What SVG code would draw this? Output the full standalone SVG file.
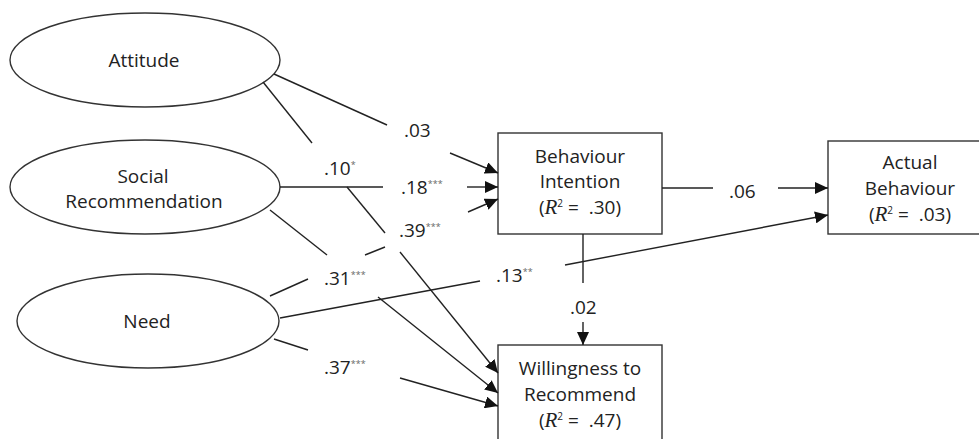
<svg xmlns="http://www.w3.org/2000/svg" width="979" height="439" viewBox="0 0 979 439">
<style>
.shape{fill:#fff;stroke:#333;stroke-width:1.4}
.node{font-family:"Open Sans","Liberation Sans",sans-serif;font-size:19px;fill:#222;text-anchor:middle}
.lbl{font-family:"Open Sans","Liberation Sans",sans-serif;font-size:19px;fill:#222}
.ast{font-size:9px;fill:#666}
.r{font-family:"Liberation Serif",serif;font-style:italic;font-size:21px}
.sup{font-size:10px}
.con line{stroke:#222;stroke-width:1.4}
.arr{marker-end:url(#ah)}
</style>
<defs>
<marker id="ah" markerUnits="userSpaceOnUse" markerWidth="14" markerHeight="12" refX="13" refY="6" orient="auto">
<path d="M0,0 L13,6 L0,12 z" fill="#111"/>
</marker>
</defs>
<rect width="979" height="439" fill="#fff"/>
<g id="attitude">
<ellipse class="shape" cx="145" cy="60" rx="135" ry="47"/>
<text class="node" x="144" y="67">Attitude</text>
</g>
<g id="social">
<ellipse class="shape" cx="145" cy="187" rx="135" ry="47"/>
<text class="node" x="143" y="183">Social</text>
<text class="node" x="144" y="208">Recommendation</text>
</g>
<g id="need">
<ellipse class="shape" cx="148" cy="321" rx="131" ry="47"/>
<text class="node" x="147" y="328">Need</text>
</g>
<g id="bi">
<rect class="shape" x="498" y="133" width="164" height="101"/>
<text class="node" x="580" y="163">Behaviour</text>
<text class="node" x="580" y="188">Intention</text>
<text class="node" x="580" y="214">(<tspan class="r">R</tspan><tspan class="sup" dy="-7">2</tspan><tspan dy="7">&#160;=&#160;&#160;.30)</tspan></text>
</g>
<g id="ab">
<rect class="shape" x="828" y="141" width="164" height="93"/>
<text class="node" x="910" y="169">Actual</text>
<text class="node" x="910" y="195">Behaviour</text>
<text class="node" x="910" y="221">(<tspan class="r">R</tspan><tspan class="sup" dy="-7">2</tspan><tspan dy="7">&#160;=&#160;&#160;.03)</tspan></text>
</g>
<g id="wr">
<rect class="shape" x="498" y="345" width="164" height="110"/>
<text class="node" x="580" y="375">Willingness to</text>
<text class="node" x="580" y="401">Recommend</text>
<text class="node" x="580" y="427">(<tspan class="r">R</tspan><tspan class="sup" dy="-7">2</tspan><tspan dy="7">&#160;=&#160;&#160;.47)</tspan></text>
</g>
<g id="connectors" class="con">
<line x1="274" y1="74" x2="387" y2="125"/>
<line class="arr" x1="450" y1="153" x2="498" y2="173"/>
<line x1="263" y1="82" x2="312" y2="143"/>
<line x1="347" y1="187" x2="385" y2="233"/>
<line class="arr" x1="400" y1="252" x2="498" y2="373"/>
<line x1="280" y1="187" x2="383" y2="187"/>
<line class="arr" x1="467" y1="187" x2="498" y2="187"/>
<line x1="270" y1="296" x2="308" y2="279"/>
<line x1="365" y1="255" x2="385" y2="247"/>
<line class="arr" x1="468" y1="212" x2="498" y2="199"/>
<line x1="270" y1="210" x2="327" y2="255"/>
<line class="arr" x1="378" y1="297" x2="498" y2="393"/>
<line x1="274" y1="339" x2="308" y2="350"/>
<line class="arr" x1="400" y1="378" x2="498" y2="406"/>
<line x1="280" y1="318" x2="480" y2="281"/>
<line class="arr" x1="565" y1="265" x2="828" y2="215"/>
<line x1="662" y1="188" x2="713" y2="188"/>
<line class="arr" x1="778" y1="188" x2="828" y2="188"/>
<line x1="583" y1="234" x2="583" y2="283"/>
<line class="arr" x1="583" y1="322" x2="583" y2="345"/>
</g>
<g id="labels">
<text class="lbl" x="404" y="137">.03</text>
<text class="lbl" x="324" y="175">.10<tspan class="ast" dy="-7">*</tspan></text>
<text class="lbl" x="401" y="194">.18<tspan class="ast" dy="-7">***</tspan></text>
<text class="lbl" x="399" y="237">.39<tspan class="ast" dy="-7">***</tspan></text>
<text class="lbl" x="324" y="285">.31<tspan class="ast" dy="-7">***</tspan></text>
<text class="lbl" x="324" y="374">.37<tspan class="ast" dy="-7">***</tspan></text>
<text class="lbl" x="496" y="282">.13<tspan class="ast" dy="-7">**</tspan></text>
<text class="lbl" x="729" y="198">.06</text>
<text class="lbl" x="570" y="314">.02</text>
</g>
</svg>
